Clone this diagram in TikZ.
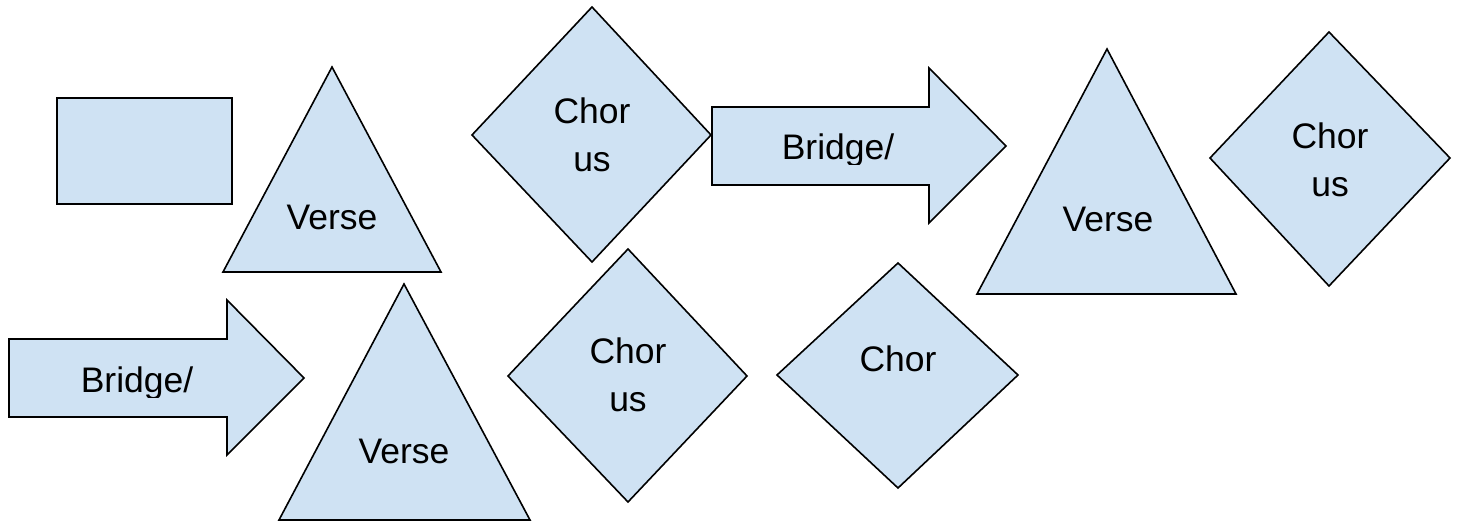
\documentclass[tikz,border=0pt]{standalone}
\usepackage{fontspec}
\setmainfont{Liberation Sans}
\usetikzlibrary{positioning}
\definecolor{shapeblue}{HTML}{CFE2F3}
\tikzset{shp/.style={draw=black,fill=shapeblue,line width=1.6pt,line join=miter},
lbl/.style={inner sep=0pt,font=\fontsize{35.5}{48}\selectfont,align=center}}
\begin{document}
\begin{tikzpicture}[x=1pt,y=-1pt]
\useasboundingbox (0,0) rectangle (1457,521);
% empty box
\draw[shp] (57,98) rectangle (232,204);
% triangles
\draw[shp] (332,67) -- (441,272) -- (223,272) -- cycle;
\draw[shp] (1107,49) -- (1236,294) -- (977,294) -- cycle;
\draw[shp] (404,284) -- (530,520) -- (279,520) -- cycle;
\node[lbl] (verseA) at (332,217) {Verse};
\node[lbl] (verseB) at (1108,219) {Verse};
\node[lbl] (verseC) at (404,451) {Verse};
% diamonds
\draw[shp] (592,7) -- (711,135) -- (592,262) -- (472,135) -- cycle;
\draw[shp] (1329,32) -- (1450,158) -- (1329,286) -- (1210,158) -- cycle;
\draw[shp] (628,249) -- (747,376) -- (628,502) -- (508,376) -- cycle;
\draw[shp] (898,263) -- (1018,375) -- (898,488) -- (777,375) -- cycle;
\node[lbl] (chorusA) at (592,135) {Chor\\us};
\node[lbl] (chorusB) at (1330,159.5) {Chor\\us};
\node[lbl] (chorusC) at (628,375) {Chor\\us};
\node[lbl] (chorD) at (898,359) {Chor};
% arrows
\draw[shp] (712,107) -- (929,107) -- (929,68) -- (1006,146) -- (929,223) -- (929,185) -- (712,185) -- cycle;
\draw[shp] (9,339) -- (227,339) -- (227,300) -- (304,378) -- (227,455) -- (227,417) -- (9,417) -- cycle;
\begin{scope}
\clip (712,107) rectangle (929,165);
\node[lbl,anchor=base] (bridgeA) at (838,160) {Bridge/};
\end{scope}
\begin{scope}
\clip (9,339) rectangle (227,397);
\node[lbl,anchor=base] (bridgeB) at (137,392) {Bridge/};
\end{scope}
\end{tikzpicture}
\end{document}
